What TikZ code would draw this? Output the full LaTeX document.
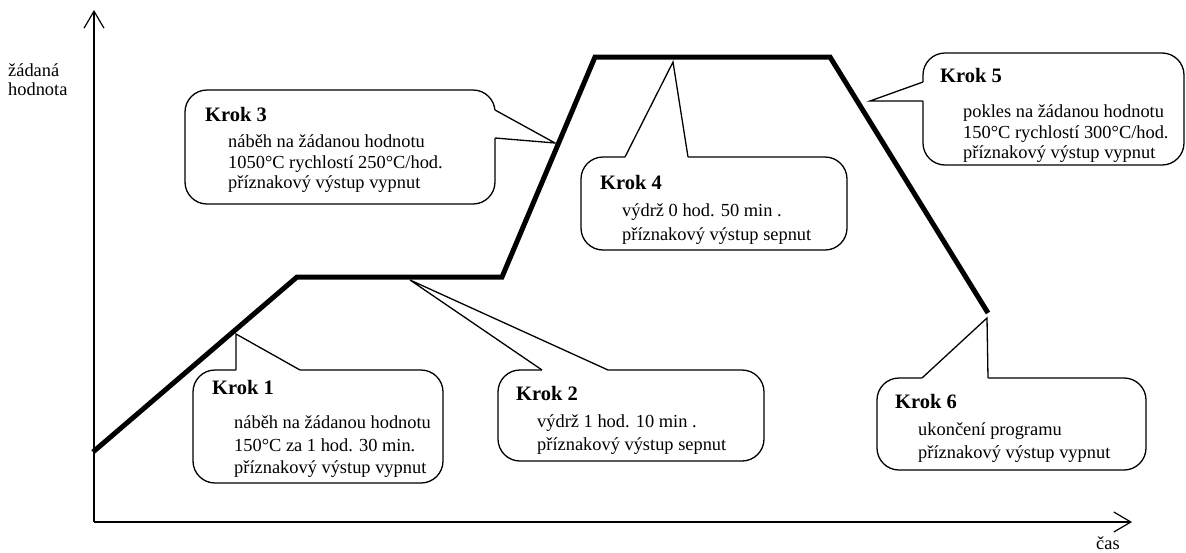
\documentclass[tikz,border=0pt]{standalone}
\usepackage{fontspec}
\setmainfont{Liberation Serif}
\usetikzlibrary{arrows.meta}
\begin{document}
\begin{tikzpicture}[x=1pt,y=-1pt,
  body/.style={anchor=base west, inner sep=0pt, font=\fontsize{18.4}{21}\selectfont},
  head/.style={anchor=base west, inner sep=0pt, font=\fontsize{20.5}{24}\selectfont\bfseries},
  box/.style={draw=black, fill=white, line width=1.3pt, rounded corners=22pt},
  ptr/.style={line width=1.3pt, line join=miter},
  axis/.style={line width=1.2pt, -{Straight Barb[length=17pt,width=20pt,line width=1.2pt]}},
  prof/.style={line width=5pt, line join=miter}]
\useasboundingbox (0,0) rectangle (1186,552);
% axes
\coordinate (O) at (94,522);
\coordinate (ytop) at (94,10);
\coordinate (xend) at (1132,522);
\draw[axis] (O) -- (ytop);
\draw[axis] (O) -- (xend);
\node[body] (ylab1) at (8,76) {žádaná};
\node[body] (ylab2) at (8,95) {hodnota};
\node[body] (xlab) at (1096,549) {čas};
% profile
\coordinate (p0) at (93,452);
\coordinate (p1) at (297,277);
\coordinate (p2) at (502,277);
\coordinate (p3) at (595,57);
\coordinate (p4) at (830,57);
\coordinate (p5) at (988,313);
\draw[prof] (p0) -- (p1) -- (p2) -- (p3) -- (p4) -- (p5);
% Box 3
\draw[box] (185,90) rectangle (495,204);
\coordinate (b3a) at (495,110); \coordinate (b3t) at (555,143); \coordinate (b3b) at (495,138);
\fill[white] ([xshift=-3pt]b3a) -- (b3a) -- (b3t) -- (b3b) -- ([xshift=-3pt]b3b) -- cycle;
\draw[ptr] (b3a) -- (b3t) -- (b3b);
\node[head] (k3) at (205,121) {Krok 3};
\node[body] (k3a) at (228,147) {náběh na žádanou hodnotu};
\node[body] (k3b) at (228,168) {1050°C rychlostí 250°C/hod.};
\node[body] (k3c) at (228,188) {příznakový výstup vypnut};
% Box 4
\draw[box] (581,157) rectangle (847,250);
\coordinate (b4a) at (625,157); \coordinate (b4t) at (673,62); \coordinate (b4b) at (688,157);
\fill[white] ([yshift=-3pt]b4a) -- (b4a) -- (b4t) -- (b4b) -- ([yshift=-3pt]b4b) -- cycle;
\draw[ptr] (b4a) -- (b4t) -- (b4b);
\node[head] (k4) at (600,189) {Krok 4};
\node[body] (k4a) at (622,216) {výdrž 0 hod. 50 min .};
\node[body] (k4b) at (622,240) {příznakový výstup sepnut};
% Box 5
\draw[box] (923,53) rectangle (1184,165);
\coordinate (b5a) at (923,82); \coordinate (b5t) at (870,101); \coordinate (b5b) at (923,101);
\fill[white] ([xshift=3pt]b5a) -- (b5a) -- (b5t) -- (b5b) -- ([xshift=3pt]b5b) -- cycle;
\draw[ptr] (b5a) -- (b5t) -- (b5b);
\node[head] (k5) at (940,82) {Krok 5};
\node[body] (k5a) at (963,117) {pokles na žádanou hodnotu};
\node[body] (k5b) at (963,138) {150°C rychlostí 300°C/hod.};
\node[body] (k5c) at (963,158) {příznakový výstup vypnut};
% Box 1
\draw[box] (193,370) rectangle (443,483);
\coordinate (b1a) at (236,370); \coordinate (b1t) at (236,334); \coordinate (b1b) at (300,370);
\fill[white] ([yshift=-3pt]b1a) -- (b1a) -- (b1t) -- (b1b) -- ([yshift=-3pt]b1b) -- cycle;
\draw[ptr] (b1a) -- (b1t) -- (b1b);
\node[head] (k1) at (212,394) {Krok 1};
\node[body] (k1a) at (234,428) {náběh na žádanou hodnotu};
\node[body] (k1b) at (234,451) {150°C za 1 hod. 30 min.};
\node[body] (k1c) at (234,473) {příznakový výstup vypnut};
% Box 2
\draw[box] (498,370) rectangle (764,461);
\coordinate (b2a) at (542,370); \coordinate (b2t) at (410,280); \coordinate (b2b) at (608,370);
\fill[white] ([yshift=-3pt]b2a) -- (b2a) -- (b2t) -- (b2b) -- ([yshift=-3pt]b2b) -- cycle;
\draw[ptr] (b2a) -- (b2t) -- (b2b);
\node[head] (k2) at (516,400) {Krok 2};
\node[body] (k2a) at (537,427) {výdrž 1 hod. 10 min .};
\node[body] (k2b) at (537,450) {příznakový výstup sepnut};
% Box 6
\draw[box] (877,378) rectangle (1146,470);
\coordinate (b6a) at (922,378); \coordinate (b6t) at (987,318); \coordinate (b6b) at (988,378);
\fill[white] ([yshift=-3pt]b6a) -- (b6a) -- (b6t) -- (b6b) -- ([yshift=-3pt]b6b) -- cycle;
\draw[ptr] (b6a) -- (b6t) -- (b6b);
\node[head] (k6) at (895,408) {Krok 6};
\node[body] (k6a) at (918,435) {ukončení programu};
\node[body] (k6b) at (918,458) {příznakový výstup vypnut};
\end{tikzpicture}
\end{document}
